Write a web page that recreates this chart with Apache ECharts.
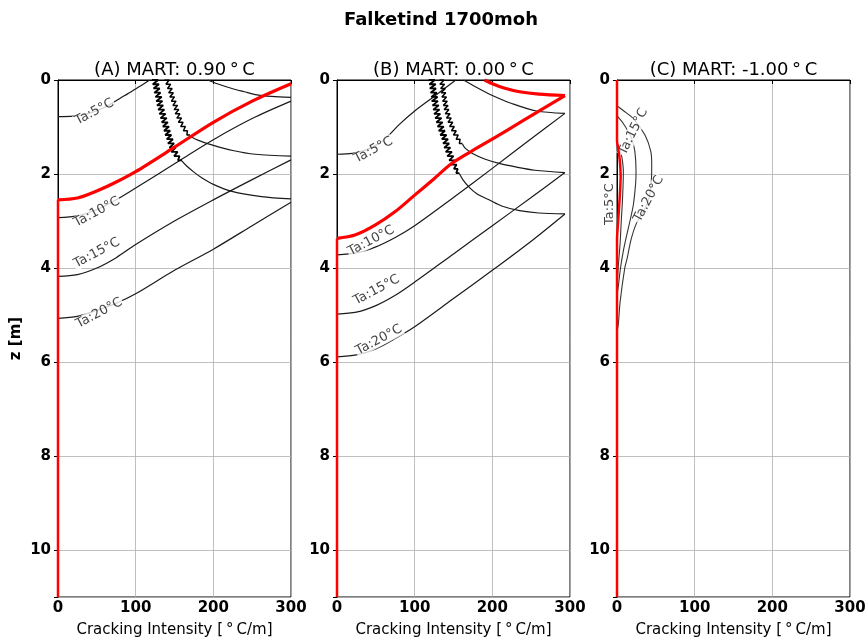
<!DOCTYPE html>
<html>
<head>
<meta charset="utf-8">
<script src="https://cdn.jsdelivr.net/npm/echarts@6/dist/echarts.min.js"></script>
<style>
  html, body { margin: 0; padding: 0; background: #fff; }
  #chart { width: 866px; height: 638px; }
</style>
</head>
<body>
<div id="chart"></div>
<script>
// titles
const figTitle = 'Falketind 1700moh'
const panelTitles = ['(A) MART: 0.90\u2009°\u2009C', '(B) MART: 0.00\u2009°\u2009C', '(C) MART: -1.00\u2009°\u2009C']
const xName = 'Cracking Intensity [\u2009°\u2009C/m]'
const yName = 'z [m]'

// ---- panel A: [intensity, depth] ----
const aRedEdge = [[0, 11], [0, 2.55]]
const aRed = [[0, 2.55], [25, 2.51], [50, 2.36], [75, 2.17], [100, 1.95], [150, 1.43], [200, 0.9], [250, 0.45], [300, 0.08]]
const aTa5 = [[0, 0.78], [20, 0.77], [40, 0.71], [60, 0.58], [75, 0.44], [90, 0.29], [105, 0.14], [118, 0]]
const aTa10 = [[0, 2.93], [25, 2.89], [50, 2.76], [75, 2.55], [100, 2.3], [150, 1.78], [200, 1.27], [250, 0.82], [300, 0.45]]
const aTa15 = [[0, 4.18], [25, 4.14], [50, 4.0], [75, 3.78], [100, 3.5], [150, 3.0], [200, 2.55], [250, 2.12], [300, 1.7]]
const aTa20 = [[0, 5.07], [25, 5.03], [50, 4.9], [75, 4.75], [100, 4.55], [150, 4.05], [200, 3.6], [250, 3.1], [300, 2.6]]
const aRet10 = [[193, 0], [205, 0.08], [224, 0.18], [240, 0.25], [254, 0.31], [275, 0.35], [300, 0.37]]
// jagged part: [depth, left, right]
const aZig15 = [[0, 137, 143], [0.09, 139, 145], [0.18, 141, 147], [0.27, 142.5, 148.5], [0.36, 144, 150], [0.45, 146, 152],
  [0.54, 148, 154], [0.63, 149.5, 155.5], [0.72, 151, 157], [0.81, 153, 159], [0.9, 155, 161], [0.99, 158, 164],
  [1.08, 161.5, 166.5], [1.17, 166, 170]]
const aRet15 = [[170, 1.19], [180, 1.28], [198, 1.38], [225, 1.5], [254, 1.58], [300, 1.62]]
const aZig20 = [[0, 121, 129], [0.09, 122, 130], [0.18, 123, 131], [0.27, 124, 132], [0.36, 125.5, 133.5], [0.45, 126.5, 134.5],
  [0.54, 127.5, 135.5], [0.63, 129, 137], [0.72, 130.5, 138.5], [0.81, 132, 140], [0.9, 133.5, 141.5], [0.99, 135, 143],
  [1.08, 136.5, 144.5], [1.17, 138, 146], [1.26, 140, 148], [1.35, 141.5, 149.5], [1.44, 143.5, 151.5], [1.53, 146, 154],
  [1.62, 149.5, 156.5], [1.71, 154.5, 159.5]]
const aRet20 = [[159.5, 1.72], [165, 1.82], [175, 1.96], [185, 2.08], [200, 2.22], [224, 2.37], [262, 2.48], [300, 2.53]]
const aLabels = [['Ta:5°C', 47, 0.68, 28], ['Ta:10°C', 50, 2.81, 28], ['Ta:15°C', 50, 3.68, 28], ['Ta:20°C', 53, 4.96, 28]]

// ---- panel B ----
const bRedEdge = [[0, 11], [0, 3.37]]
const bRed = [[0, 3.37], [23, 3.3], [49, 3.09], [75, 2.8], [100, 2.45], [125, 2.1], [148, 1.77], [182, 1.43], [220, 1.06], [260, 0.66], [293.5, 0.33]]
const bRedRet = [[293.5, 0.33], [260, 0.3], [235, 0.25], [215, 0.17], [200, 0.08], [190, 0]]
const bTa5 = [[0, 1.58], [20, 1.56], [40, 1.47], [60, 1.28], [80, 0.95], [100, 0.66], [125, 0.35], [153, 0]]
const bTa10 = [[0, 3.72], [25, 3.68], [50, 3.55], [75, 3.35], [100, 3.1], [150, 2.5], [200, 1.88], [250, 1.25], [293.5, 0.71]]
const bRet10 = [[293.5, 0.71], [257, 0.66], [225, 0.5], [200, 0.33], [180, 0.16], [163, 0]]
const bTa15 = [[0, 4.98], [25, 4.94], [50, 4.8], [75, 4.58], [100, 4.3], [150, 3.7], [200, 3.1], [250, 2.5], [293.5, 1.97]]
const bTa20 = [[0, 5.89], [25, 5.85], [50, 5.72], [75, 5.5], [100, 5.25], [150, 4.65], [200, 4.05], [250, 3.43], [293.5, 2.85]]
const bZig15 = [[0, 132, 138], [0.09, 132.5, 138.5], [0.18, 133.5, 139.5], [0.27, 134, 140], [0.36, 135, 141], [0.45, 136, 142],
  [0.54, 137, 143], [0.63, 138, 144], [0.72, 139.5, 145.5], [0.81, 141, 147], [0.9, 143, 149], [0.99, 145, 151],
  [1.08, 147.5, 153.5], [1.17, 150, 156], [1.26, 153.5, 158.5], [1.35, 157.5, 161.5]]
const bRet15 = [[161.5, 1.36], [165, 1.45], [175, 1.57], [190, 1.68], [210, 1.78], [230, 1.85], [255, 1.92], [293.5, 1.97]]
const bZig20 = [[0, 118, 126], [0.09, 119, 127], [0.18, 119.5, 127.5], [0.27, 120.5, 128.5], [0.36, 121.5, 129.5], [0.45, 122, 130],
  [0.54, 123, 131], [0.63, 124, 132], [0.72, 125, 133], [0.81, 126.5, 134.5], [0.9, 128, 136], [0.99, 129.5, 137.5],
  [1.08, 131, 139], [1.17, 133, 141], [1.26, 135, 143], [1.35, 136.5, 144.5], [1.44, 138, 146], [1.53, 140, 148],
  [1.62, 142, 150], [1.71, 144.5, 152.5], [1.8, 147, 154], [1.89, 150.5, 155.5], [1.98, 153.5, 157.5]]
const bRet20 = [[157.5, 1.99], [162, 2.12], [170, 2.28], [180, 2.42], [197, 2.56], [212, 2.68], [235, 2.78], [260, 2.83], [293.5, 2.85]]
const bLabels = [['Ta:5°C', 47, 1.49, 28], ['Ta:10°C', 44, 3.42, 28], ['Ta:15°C', 51, 4.47, 28], ['Ta:20°C', 54, 5.53, 28]]

// ---- panel C ----
const cRed = [[0, 11], [0, 3.4], [1.5, 3.0], [3.5, 2.5], [4.7, 2.05], [3.5, 1.7], [1.5, 1.45], [0, 1.3], [0, 0]]
const cTa10 = [[0, 4.5], [1.5, 4.0], [3.9, 3.5], [5.5, 3.0], [7.2, 2.5], [8.2, 1.95], [7, 1.72], [5, 1.55], [2, 1.4], [0, 1.36]]
const cTa15 = [[0, 4.6], [2, 4.35], [4.5, 4.0], [8, 3.65], [12.5, 3.3], [16.7, 3.0], [21, 2.66], [24, 2.2], [24.5, 1.95],
  [23, 1.52], [19, 1.25], [14.6, 1.1], [7, 0.9], [1, 0.78], [0, 0.76]]
const cTa20 = [[0, 5.35], [1.7, 5.2], [4, 4.72], [10, 4.0], [13, 3.8], [18, 3.4], [25, 3.05], [34, 2.8], [41, 2.53], [44, 2.2],
  [44.7, 1.81], [43.5, 1.52], [36, 1.17], [21, 0.82], [8, 0.65], [1.7, 0.57], [0, 0.55]]
const cLabels = [['Ta:5°C', -10, 2.64, 90], ['Ta:15°C', 21, 1.1, 64], ['Ta:20°C', 41, 2.53, 62]]

const FONT = 'DejaVu Sans'
const gridLefts = [58, 337, 617]

const zig = rows => {
  const pts = []
  rows.forEach(r => { pts.push([r[1], r[0]], [r[2], r[0]]) })
  return pts
}

const line = (data, i, color, width, smooth, z) => ({
  type: 'line', xAxisIndex: i, yAxisIndex: i, data: data,
  symbol: 'none', showSymbol: false, smooth: smooth, silent: true,
  lineStyle: { color: color, width: width }, z: z
})

const labelSeries = (labels, i) => ({
  type: 'scatter', xAxisIndex: i, yAxisIndex: i, symbolSize: 1, silent: true, clip: false, z: 3,
  itemStyle: { color: 'rgba(0,0,0,0)' },
  data: labels.map(l => ({
    value: [l[1], l[2]],
    label: {
      show: true, formatter: l[0], rotate: l[3], position: 'inside',
      fontFamily: FONT, fontSize: 13, color: '#111',
      backgroundColor: l[1] < 0 ? 'transparent' : '#fff', padding: [0, 1]
    }
  }))
})

const BLK = '#1a1a1a'
const RED = '#ff0000'

const series = [
  // A
  line(aTa5, 0, BLK, 1.2, 0.3, 2), line(aTa10, 0, BLK, 1.2, 0.3, 2), line(aTa15, 0, BLK, 1.2, 0.3, 2), line(aTa20, 0, BLK, 1.2, 0.3, 2),
  line(aRet10, 0, BLK, 1.2, 0.3, 2),
  line(zig(aZig15), 0, '#000', 1.5, false, 2), line(aRet15, 0, BLK, 1.2, 0.3, 2),
  line(zig(aZig20), 0, '#000', 1.8, false, 2), line(aRet20, 0, BLK, 1.2, 0.3, 2),
  labelSeries(aLabels, 0),
  line(aRedEdge, 0, RED, 2.5, false, 4), line(aRed, 0, RED, 3.2, 0.3, 4),
  // B
  line(bTa5, 1, BLK, 1.2, 0.3, 2), line(bTa10, 1, BLK, 1.2, 0.3, 2), line(bTa15, 1, BLK, 1.2, 0.3, 2), line(bTa20, 1, BLK, 1.2, 0.3, 2),
  line(bRet10, 1, BLK, 1.2, 0.3, 2),
  line(zig(bZig15), 1, '#000', 1.5, false, 2), line(bRet15, 1, BLK, 1.2, 0.3, 2),
  line(zig(bZig20), 1, '#000', 1.8, false, 2), line(bRet20, 1, BLK, 1.2, 0.3, 2),
  labelSeries(bLabels, 1),
  line(bRedEdge, 1, RED, 2.5, false, 4), line(bRed, 1, RED, 3.2, 0.3, 4), line(bRedRet, 1, RED, 3.2, 0.3, 4),
  // C
  line(cTa10, 2, '#333', 1.1, 0.3, 2), line(cTa15, 2, '#333', 1.1, 0.3, 2), line(cTa20, 2, '#333', 1.1, 0.3, 2),
  labelSeries(cLabels, 2),
  line(cRed, 2, RED, 2.5, 0.2, 4)
]

const chart = echarts.init(document.getElementById('chart'), null, { renderer: 'canvas' })

const option = {
  animation: false,
  backgroundColor: '#fff',
  textStyle: { fontFamily: FONT },
  graphic: [
    { type: 'text', x: 441, y: 20, style: { text: figTitle, font: 'bold 18px "DejaVu Sans"', fill: '#000',
      textAlign: 'center', textVerticalAlign: 'middle', align: 'center', verticalAlign: 'middle' } }
  ].concat(panelTitles.map((t, i) => ({
    type: 'text', x: gridLefts[i] + 116.5, y: 70,
    style: { text: t, font: '18px "DejaVu Sans"', fill: '#000',
      textAlign: 'center', textVerticalAlign: 'middle', align: 'center', verticalAlign: 'middle' }
  }))),
  grid: gridLefts.map(l => ({
    left: l, top: 80, width: 233, height: 517, show: true,
    borderColor: '#000', borderWidth: 1, backgroundColor: 'transparent',
    containLabel: false, outerBoundsMode: 'none'
  })),
  xAxis: gridLefts.map((l, i) => ({
    gridIndex: i, type: 'value', min: 0, max: 300, interval: 100,
    name: xName, nameLocation: 'middle', nameGap: 26,
    nameTextStyle: { fontFamily: FONT, fontSize: 15, color: '#000' },
    axisLine: { show: true, lineStyle: { color: '#000', width: 1 } },
    axisTick: { show: true, length: 4, lineStyle: { color: '#000' } },
    axisLabel: { fontFamily: FONT, fontSize: 15, fontWeight: 'bold', color: '#000', margin: 4 },
    splitLine: { show: true, lineStyle: { color: '#b0b0b0', width: 0.8 } }
  })),
  yAxis: gridLefts.map((l, i) => ({
    gridIndex: i, type: 'value', inverse: true, min: 0, max: 11, interval: 2,
    name: i === 0 ? yName : '', nameLocation: 'middle', nameGap: 34, nameRotate: 90,
    nameTextStyle: { fontFamily: FONT, fontSize: 15, fontWeight: 'bold', color: '#000' },
    axisLine: { show: true, lineStyle: { color: '#000', width: 1 } },
    axisTick: { show: true, length: 4, lineStyle: { color: '#000' } },
    axisLabel: { fontFamily: FONT, fontSize: 15, fontWeight: 'bold', color: '#000', margin: 7,
      formatter: v => (v > 10.5 ? '' : String(v)) },
    splitLine: { show: true, lineStyle: { color: '#b0b0b0', width: 0.8 } }
  })),
  series: series
}

chart.setOption(option)
</script>
</body>
</html>
